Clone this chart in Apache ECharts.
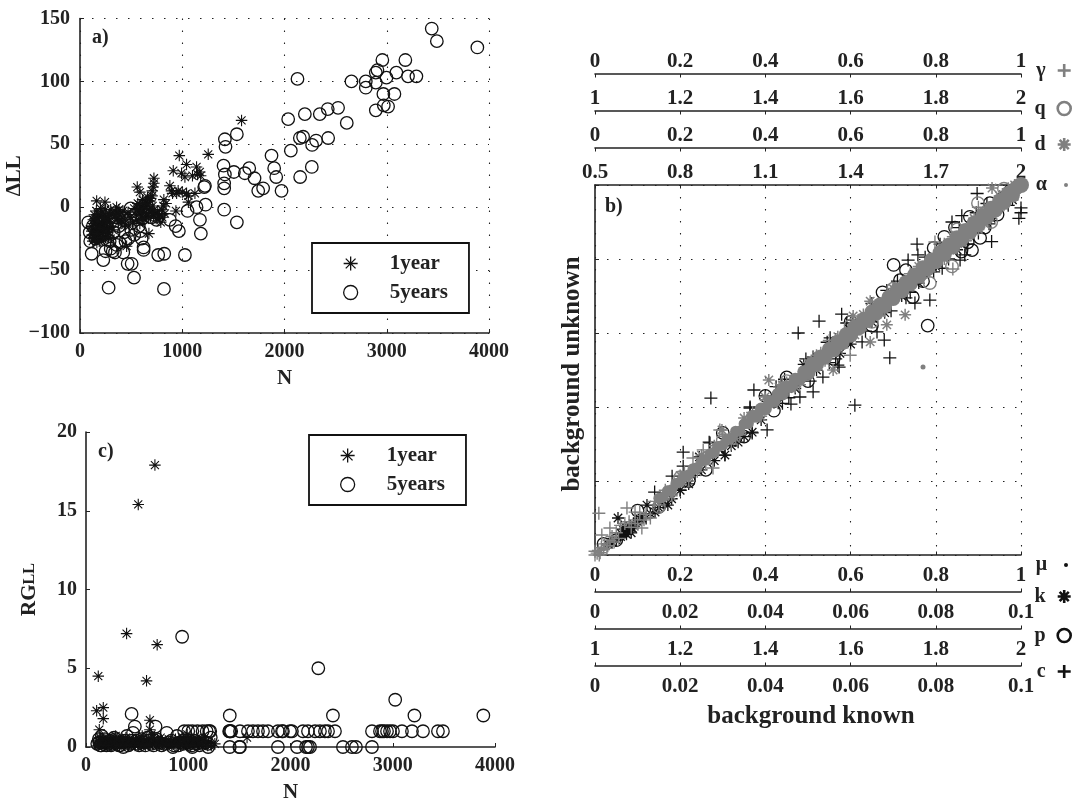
<!DOCTYPE html>
<html><head><meta charset="utf-8">
<style>html,body{margin:0;padding:0;background:#fff}#m{width:1079px;height:801px}</style>
<script src="https://cdn.jsdelivr.net/npm/echarts@6/dist/echarts.min.js"></script>
</head><body><div id="m"></div>
<script>
// Panel a: N vs delta LL
const a1year = [[1580,69],[1254,42],[971,41],[1042,34],[912,29],[1140,32],[993,27],[1026,24],[1172,28],[1100,25],[1180,25],[1150,26],[723,23],[723,19],[716,16],[706,13],[560,16],[586,12],[879,17],[895,13],[945,11],[1042,11],[1124,11],[1060,9],[1000,12],[960,13],[905,11],[820,6],[1060,4],[938,-3],[674,-21],[456,-31],[163,5],[244,4],[358,0],[380,-2],[420,-3],[300,-2],
[110,-15],[120,-22],[125,-27],[130,-10],[135,-18],[140,-6],[145,-25],[150,-13],[155,-20],[160,-3],[165,-28],[170,-9],[175,-16],[180,-23],[185,-6],[190,-12],[195,-19],[200,-1],[205,-26],[210,-8],[215,-14],[220,-21],[225,-4],[230,-11],[240,-17],[250,-24],[255,-7],[262,-13],[270,-20],[280,-9],[290,-16],[300,-25],[312,-5],[320,-18],[335,-8],
[115,-19],[128,-13],[138,-24],[148,-9],[158,-16],[168,-21],[178,-11],[188,-27],[198,-15],[208,-5],[218,-24],[228,-17],[238,-9],[248,-2],[258,-19],[268,-12],[278,-24],[288,-6],[298,-13],
[345,-3],[365,-9],[390,-6],[405,-11],[430,-7],[445,-14],[470,-4],[495,-8],[515,-12],[530,-1],[545,-6],[555,-10],[565,3],[575,-3],[585,-13],[595,1],[605,-7],[612,6],[622,-2],[634,-10],[640,4],[650,-5],[660,8],[672,-8],[685,5],[695,-4],[705,9],[718,-7],[735,-5],[745,-9],[760,-3],[778,-6],[790,-12],[800,-2],[815,1],[830,-5],[842,3],
[560,-2],[580,2],[600,-4],[615,-9],[628,3],[645,-1],[662,2],[678,-4],[692,7],[710,1],[725,-2],[360,-5],[400,-13],[440,-10],[480,-15],[760,-9],[805,-8],[350,-7],[375,-12]];
const a5years = [[3440,142],[3490,132],[3886,127],[2127,102],[2957,117],[3182,117],[2909,109],[2893,107],[2997,103],[3094,107],[3208,104],[3290,104],[2655,100],[2795,100],[2795,95],[2893,99],[2967,90],[3075,90],[2893,77],[2971,81],[3013,80],[2524,79],[2423,78],[2345,74],[2199,74],[2036,70],[2609,67],[2427,55],[2309,53],[2270,49.5],[2150,55],[2182,56],[2062,45],[2267,32],[2153,24],[1873,41],[1899,31],[1919,24],[1971,13],[1791,15],[1743,13],[1707,23],[1655,31],[1612,27],[1505,28],[1534,58],[1417,54],[1423,48],[1404,33],[1417,26],[1410,19],[1410,15],[1410,-2],[1534,-12],[1215,16],[1222,17],[1228,2],[1140,0],[1173,-10],[1182,-21],[1052,-3],[1026,-38],[967,-19],[935,-15],[879,-10],[824,-37],[765,-38],[821,-65],[280,-64],[528,-56],[505,-45],[466,-45],[622,-34],[622,-32],[603,-25],[228,-42],[114,-37],[250,-35],[342,-36],[423,-36],[358,-30],[472,-25],[81,-12],[495,-1],[748,-10],[590,-19],[320,-35],[530,-22],
[95,-20],[430,-20],[100,-27],[125,-15],[150,-25],[170,-18],[200,-11],[235,-22],[265,-16],[290,-27],[330,-20],[380,-15],[410,-8],[445,-27],[500,-18],[540,-6],[575,-15],[610,-9],[640,-4],[700,-8],[385,-28],[300,-33]];

// Panel c: N vs RG_LL
const c1year = [[674,17.9],[511,15.4],[397,7.2],[696,6.5],[120,4.5],[592,4.2],[104,2.3],[169,2.5],[169,1.8],[130,1.1],[625,1.7],[1575,0.6],[1260,0.2],[110,0.4],[125,0.2],[140,0.6],[155,0.1],[170,0.3],[185,0.5],[200,0.2],[215,0.4],[230,0.1],[245,0.6],[260,0.3],[275,0.2],[290,0.7],[305,0.1],[320,0.4],[335,0.3],[350,0.5],[370,0.2],[390,0.6],[410,0.1],[430,0.4],[450,0.3],[470,0.2],[490,0.5],[510,0.1],[530,0.4],[550,0.7],[570,0.2],[590,0.3],[610,0.5],[625,1.1],[640,0.8],[650,0.2],[670,0.4],[690,0.1],[710,0.3],[730,0.6],[750,0.2],[775,0.4],[800,0.1],[825,0.3],[850,0.2],[875,0.5],[900,0.3],[925,0.1],[950,0.6],[975,0.3],[990,0.8],[1010,0.2],[1030,0.5],[1050,0.4],[1075,0.2],[1100,0.3],[1125,0.1],[1150,0.4],[1175,0.2],[1200,0.3],[1225,0.1],
[118,0.1],[132,0.3],[148,0.2],[163,0.4],[178,0.1],[193,0.3],[208,0.1],[222,0.2],[238,0.3],[252,0.1],[268,0.4],[283,0.3],[298,0.2],[313,0.2],[328,0.1],[343,0.2],[360,0.4],[380,0.1],[400,0.3],[420,0.2],[440,0.1],[460,0.4],[480,0.1],[500,0.3],[520,0.2],[540,0.1],[560,0.4],[580,0.1],[600,0.2],[620,0.1],[660,0.6],[680,0.2],[700,0.4],[720,0.1],[740,0.3],[760,0.1],[790,0.3],[815,0.2],[840,0.1],[865,0.3],[890,0.1],[915,0.4],[940,0.2],[960,0.4],[985,0.1],[1000,0.4],[1020,0.1],[1040,0.3],[1065,0.1],[1090,0.4],[1110,0.2],[1140,0.2],[1165,0.3],[1190,0.1]];
const c5years = [[940,7],[2272,5],[3024,3],[446,2.1],[1406,2],[2415,2],[3212,2],[3886,2],[478,1.3],[680,1.3],[1506,1],[1584,1],[1633,1],[1682,1],[1731,1],[1780,1],[1877,1],[1917,1],[1926,1],[1995,1],[2014,1],[2122,1],[2171,1],[2240,1],[2288,1],[2337,1],[2367,1],[2435,1],[2797,1],[2875,1],[2895,1],[2914,1],[2944,1],[2973,1],[3002,1],[3090,1],[3188,1],[3296,1],[3442,1],[3491,1],[1040,1],[1000,1],[960,1],[1090,1],[1140,1],[1180,1],[1205,1],[1215,1],[1400,1],[1410,1],[1420,1],[1406,1],[1506,0],[1877,0],[2064,0],[2152,0],[2171,0],[2191,0],[2513,0],[2601,0],[2640,0],[2797,0],[1040,0],[1195,0],[1406,0],[1500,0],[850,0],
[110,0.2],[125,0.5],[140,0.1],[155,0.7],[175,0.3],[200,0.1],[230,0.4],[260,0.2],[290,0.5],[320,0.1],[350,0.3],[365,0],[400,0.7],[430,0.2],[460,0.9],[490,0.4],[520,0.1],[560,0.3],[600,0.6],[640,0.2],[690,0.5],[740,0.1],[790,0.9],[810,0.3],[860,0.1],[890,0.7],[920,0.3],[970,0.5],[1010,0.2],[1060,0.4],[1110,0.1],[1170,0.3],[1220,0.6],
[130,0.3],[150,0.1],[185,0.5],[215,0.2],[245,0.1],[275,0.6],[305,0.3],[335,0.1],[380,0.4],[415,0.1],[445,0.4],[505,0.2],[540,0.5],[580,0.1],[620,0.4],[660,0.1],[715,0.3],[765,0.2],[835,0.4],[905,0.1],[950,0.2],[990,0.3],[1035,0.1],[1085,0.2],[1140,0.4],[1195,0.2]];

// Panel b: one [known, unknown] list per parameter, each in its own axis units
const cBlack = [[.0897,.0977],[.0861,.0917],[.0838,.09],[.0756,.084],[.0735,.0797],[.0758,.0811],[.1,.0938],[.1,.0925],[.0995,.091],[.0931,.0847],[.0857,.0797],[.0868,.0811],[.0786,.0689],[.0751,.0681],[.0692,.0533],[.0679,.0581],[.0662,.0603],[.0627,.0576],[.0579,.0651],[.0526,.0632],[.0477,.06],[.0591,.0627],[.0552,.0587],[.0512,.0535],[.05,.0519],[.057,.0513],[.061,.0405],[.0272,.0424],[.0207,.0278],[.0207,.024],[.0181,.0213],[.0268,.0305],[.0364,.0397],[.0369,.033],[.0305,.027],[.0373,.0446],[.0364,.04],[.0512,.0441],[.0481,.0427],[.046,.0408],[.0404,.0338],[.027,.0303],[.0535,.0481],[.0573,.0508],[.012,.01],[.014,.017],[.02,.0175],[.0235,.0215],[.033,.031],[.04,.043],[.044,.041],[.055,.052],[.071,.074],[.074,.071],[.081,.084],[.083,.08],[.09,.087],[.092,.095],[.097,.0945],
[.0425,.0455],[.0445,.0475],[.0455,.0425],[.0495,.053],[.0505,.047],[.0545,.0575],[.0565,.053],[.0605,.0635],[.0635,.0605],[.065,.068],[.0685,.0715],[.0695,.066],[.073,.0695],[.0775,.0805],[.0795,.0765],[.0815,.0775],[.0855,.0885],[.0875,.084],[.0895,.0925],[.0925,.0895]];
const pBlack = [[1.701,1.784],[1.781,1.62],[1.716,1.743],[1.88,1.914],[1.904,1.857],[1.927,1.951],[1.958,1.965],[1.885,1.824],[1.746,1.697],[1.82,1.86],[1.86,1.82],[1.65,1.62],[1.6,1.63],[1.5,1.47],[1.45,1.48],[1.35,1.32],[1.3,1.33],[1.22,1.2],[1.15,1.13],[1.1,1.12],[1.05,1.04],[1.02,1.03],
[1.675,1.71],[1.73,1.77],[1.77,1.74],[1.795,1.83],[1.845,1.885],[1.875,1.845],[1.915,1.885],[1.945,1.92],[1.975,1.985],[1.56,1.53],[1.42,1.39],[1.26,1.23],[1.4,1.43]];
const kBlack = [[.0054,.01],[.0075,.0065],[.007,.006],[.008,.007],[.0065,.007],[.0072,.0075],[.0085,.006],[.006,.005],[.005,.004],[.004,.0035],[.003,.003],[.01,.009],[.009,.0085],[.0122,.0135],[.0141,.0116],[.0171,.0135],[.016,.014],[.011,.01],[.02,.0175],[.025,.023],[.0305,.027],[.0336,.0305],[.035,.032],[.0369,.0332],[.043,.041],[.047,.045],[.052,.05],[.06,.057],[.065,.063],[.072,.07],[.08,.078],[.087,.085],[.093,.091],[.098,.096],
[.0068,.0062],[.0078,.0068],[.0074,.0056],[.0082,.0078],[.0062,.0058],[.0088,.0072],[.0092,.0078],[.0105,.0098],[.013,.0112],[.015,.0128],[.018,.0152],[.022,.0192],[.0245,.0265],[.028,.0255],[.032,.0295],[.039,.0365],[.049,.0515],[.0575,.0545],[.068,.0655],[.076,.0735],[.085,.0825]];
const muBlack = [[.3,.278],[.35,.33],[.42,.4],[.5,.478],[.56,.54],[.63,.61],[.68,.655],[.75,.73],[.8,.775],[.86,.84],[.9,.875],[.94,.92],[.97,.945],[.92,.945],[.78,.805]];
const gammaGray = [[0,0],[.005,.005],[.01,0],[0,.01],[.015,.02],[.02,.015],[.03,.025],[.04,.05],[.05,.06],[.06,.08],[.08,.09],[.009,.113],[.075,.127],[.094,.116],[.035,.073],[.016,.054],[.11,.073],[.094,.095],[.12,.11],[.13,.1],[.1,.085],[.23,.262],[.277,.235],[.293,.338],[.254,.284],[.32,.3],[.4,.42],[.599,.54],[.798,.846],[.84,.773],[.9,.94],[.97,.99],[1,1],[.55,.58],[.7,.72],
[.008,.012],[.012,.006],[.022,.03],[.028,.018],[.035,.04],[.045,.035],[.055,.045],[.07,.085],[.085,.075],[.105,.115],[.115,.095],[.14,.145],[.15,.135],[.165,.175],[.18,.165],
[.21,.225],[.22,.2],[.26,.245],[.3,.32],[.34,.325],[.37,.385],[.45,.465],[.48,.46],[.53,.545],[.58,.56],[.64,.655],[.68,.66],[.74,.76],[.77,.75],[.82,.84],[.87,.85],[.92,.905],[.95,.965]];
const qGray = [[1.786,1.735],[1.899,1.951],[1.838,1.78],[1.96,1.99],[1.7,1.72],[1.6,1.62],[1.45,1.47],[1.3,1.31],[1.2,1.21],[1.15,1.13],[1.85,1.88],[1.93,1.9],[1.5,1.49],[1.65,1.63]];
const dGray = [[.932,.992],[.646,.686],[.606,.646],[.646,.576],[.685,.622],[.728,.649],[.985,1],[.408,.473],[.432,.454],[.399,.427],[.298,.338],[.559,.5],[.25,.27],[.18,.16],[.5,.52],[.82,.8],[.9,.88],[.95,.97],
[.2,.215],[.24,.225],[.28,.295],[.33,.315],[.35,.37],[.39,.375],[.44,.46],[.47,.455],[.52,.54],[.54,.525],[.57,.59],[.61,.595],[.63,.65],[.67,.655],[.7,.72],[.73,.715],[.76,.78],[.79,.775],[.84,.86],[.86,.845],[.89,.91],[.92,.905],[.96,.945]];
const alphaGray = [[.725,.73],[.74,.735],[.755,.76],[.77,.765],[.785,.79],[.8,.795],[.815,.82],[.83,.825],[.845,.85],[.86,.855],[.875,.88],[.89,.885],[.905,.91],[.92,.915],[.935,.94],[.95,.945],[.965,.97],[.98,.975],[.995,1.002],[1.01,1.003],[1.025,1.032],[1.04,1.033],[1.055,1.062],[1.07,1.063],[1.085,1.092],[1.1,1.093],[1.115,1.122],[1.13,1.123],[1.145,1.152],[1.16,1.153],[1.175,1.182],[1.19,1.183],[1.205,1.213],[1.22,1.212],[1.235,1.243],[1.25,1.242],[1.265,1.273],[1.28,1.272],[1.295,1.303],[1.31,1.302],[1.325,1.334],[1.34,1.331],[1.355,1.364],[1.37,1.361],[1.385,1.394],[1.4,1.391],[1.415,1.424],[1.43,1.421],[1.445,1.454],[1.46,1.451],[1.475,1.485],[1.49,1.48],[1.505,1.515],[1.52,1.51],[1.535,1.545],[1.55,1.54],[1.565,1.575],[1.58,1.57],[1.595,1.605],[1.61,1.6],[1.625,1.635],[1.64,1.63],[1.655,1.665],[1.67,1.66],[1.685,1.696],[1.7,1.689],[1.715,1.726],[1.73,1.719],[1.745,1.756],[1.76,1.749],[1.775,1.786],[1.79,1.779],[1.805,1.816],[1.82,1.809],[1.835,1.846],[1.85,1.839],[1.865,1.876],[1.88,1.869],[1.895,1.906],[1.91,1.899],[1.925,1.936],[1.94,1.929],[1.955,1.966],[1.97,1.959],[1.985,1.99],[2,2],[1.655,1.262]];

// Tick label lists for axes that need them
const alphaTicks = [.5,.8,1.1,1.4,1.7,2];

const serif = '"Liberation Serif","Times New Roman",serif';
const ink = '#222', midGray = '#808080';
const STAR = 'path://M5 0L5 10M0 5L10 5M1.5 1.5L8.5 8.5M1.5 8.5L8.5 1.5';
const PLUS = 'path://M5 0L5 10M0 5L10 5';
const dots = {show:true, lineStyle:{color:'#222', width:1.1, type:[1.5,10.5]}};
const labelFont = {fontFamily:serif, fontWeight:'bold', fontSize:20, color:ink};
const bFont = {...labelFont, fontSize:21};
const lineS = {show:true, onZero:false, lineStyle:{color:ink, width:1.6}};
const plain = v => (v < 0 ? '\u2212' + (-v) : String(v));

function mainX(gridIndex, show) {
  return {type:'value', gridIndex, min:0, max:4000, interval:1000, name:'N', nameLocation:'middle', nameGap:35,
    nameTextStyle:{...labelFont, fontSize:21}, axisLine:lineS, axisTick:{show:true, inside:true, length:4, lineStyle:{color:ink}},
    axisLabel:{...labelFont, margin:9, showMinLabel:true, showMaxLabel:true, formatter:plain}, splitLine:show ? dots : {show:false}};
}
function topX(i, pos, offset, min, max, interval, extra) {
  return Object.assign({type:'value', gridIndex:2, position:pos, offset, min, max, interval,
    axisLine:lineS, axisTick:{show:true, inside:true, length:3.5, lineStyle:{color:ink}},
    axisLabel:{...bFont, margin:pos === 'top' ? 2 : 10, showMinLabel:true, showMaxLabel:true, hideOverlap:false},
    splitLine:{show:false}}, extra || {});
}
const xAxes = [
  mainX(0,true), mainX(1,false),
  topX(0,'top',0,.5,2,.1,{axisTick:{show:true, inside:true, length:3.5, lineStyle:{color:ink}, customValues:alphaTicks}, axisLabel:{...bFont, margin:2, customValues:alphaTicks}}),
  topX(0,'top',37,0,1,.2),
  topX(0,'top',74,1,2,.2),
  topX(0,'top',111,0,1,.2),
  topX(0,'bottom',0,0,1,.2,{splitLine:dots}),
  topX(0,'bottom',37,0,.1,.02),
  topX(0,'bottom',74,1,2,.2),
  topX(0,'bottom',111,0,.1,.02,{name:'background known', nameLocation:'middle', nameGap:38, nameTextStyle:{...labelFont, fontSize:25, padding:[0,0,0,6]}})
];
const hiddenY = (min,max) => ({type:'value', gridIndex:2, min, max, show:false});
const yAxes = [
  {type:'value', gridIndex:0, min:-100, max:150, interval:50, name:'\u0394LL', nameLocation:'middle', nameGap:45, nameTextStyle:{...labelFont, fontSize:21},
    axisLine:lineS, axisTick:{show:true, inside:true, length:4, lineStyle:{color:ink}}, axisLabel:{...labelFont, margin:10, formatter:plain, showMinLabel:true, showMaxLabel:true}, splitLine:dots},
  {type:'value', gridIndex:1, min:0, max:20, interval:5, name:'{a|RG}{b|LL}', nameLocation:'middle', nameGap:46,
    nameTextStyle:{rich:{a:{...labelFont, fontSize:21}, b:{...labelFont, fontSize:16}}},
    axisLine:lineS, axisTick:{show:true, inside:true, length:4, lineStyle:{color:ink}}, axisLabel:{...labelFont, margin:9, showMinLabel:true, showMaxLabel:true}, splitLine:{show:false}},
  {type:'value', gridIndex:2, min:0, max:1, interval:.2, name:'background unknown', nameLocation:'middle', nameGap:10, nameTextStyle:{...labelFont, fontSize:25, padding:[0,8,0,0]},
    axisLine:lineS, axisTick:{show:true, inside:true, length:4, lineStyle:{color:ink}}, axisLabel:{show:false}, splitLine:dots},
  hiddenY(.5,2), hiddenY(1,2), hiddenY(0,.1), hiddenY(0,1)
];
// y index per scale: 0-1 → 2, .5-2 → 3, 1-2 → 4, 0-.1 → 5
function sc(name, data, symbol, size, color, width, xi, yi) {
  return {type:'scatter', name, data, symbol, symbolSize:size, xAxisIndex:xi, yAxisIndex:yi, clip:false, silent:true,
    itemStyle:{color:'transparent', borderColor:color, borderWidth:width, opacity:1}, animation:false};
}
function dot(name, data, size, color, xi, yi) {
  return {type:'scatter', name, data, symbol:'circle', symbolSize:size, xAxisIndex:xi, yAxisIndex:yi, clip:false, silent:true,
    itemStyle:{color, opacity:1}, animation:false};
}
const series = [
  sc('5years', a5years, 'circle', 12.5, '#111', 1.3, 0, 0),
  sc('1year', a1year, STAR, 11.5, '#111', 1.1, 0, 0),
  sc('5years', c5years, 'circle', 12.5, '#111', 1.3, 1, 1),
  sc('1year', c1year, STAR, 11.5, '#111', 1.1, 1, 1),
  sc('c', cBlack, PLUS, 13, '#111', 1.3, 9, 5),
  sc('p', pBlack, 'circle', 12.5, '#111', 1.3, 8, 4),
  sc('k', kBlack, STAR, 12, '#111', 1.3, 7, 5),
  dot('\u03bc', muBlack, 3, '#111', 6, 2),
  sc('\u03b3', gammaGray, PLUS, 13, midGray, 1.4, 5, 2),
  sc('q', qGray, 'circle', 12.5, midGray, 1.4, 4, 4),
  sc('d', dGray, STAR, 12, midGray, 1.5, 3, 2),
  dot('\u03b1', alphaGray, v => v[0] >= 2 ? 16 : Math.abs(v[0]-v[1]) > .2 ? 5 : v[0] < 1.05 ? 11 : v[0] < 1.25 ? 13 : 15, midGray, 2, 3)
];
function boxLegend(left, top) {
  return {left, top, orient:'vertical', selectedMode:false, padding:[10,21,10,31], itemGap:8, itemWidth:14, itemHeight:14,
    borderColor:'#111', borderWidth:1.8, backgroundColor:'#fff', z:10,
    itemStyle:{borderWidth:1.3}, textStyle:{...labelFont, fontSize:21, padding:[0,0,0,27]},
    data:[{name:'1year', icon:STAR},{name:'5years', icon:'circle'}]};
}
function sideLegend(name, icon, rowY, size, bw) {
  const small = size < 6;
  return {right: small ? 11 : 7, top:rowY - size/2, align:'right', selectedMode:false, padding:0, itemWidth:size, itemHeight:size,
    itemStyle:{borderWidth:bw}, textStyle:{...labelFont, padding:[0, small ? 12 : 7, 0, 0]},
    data:[{name, icon}]};
}
const note = (t,x,y) => ({type:'text', left:x, top:y, silent:true, style:{text:t, font:'bold 20px '+serif, fill:ink}});
const chart = echarts.init(document.getElementById('m'), null, {renderer:'canvas', width:1079, height:801});
chart.setOption({
  animation:false, backgroundColor:'#fff',
  grid:[{left:80, top:18.5, width:409, height:314.5, outerBoundsMode:'none'},{left:86, top:432, width:409, height:315, outerBoundsMode:'none'},{left:595, top:185, width:426, height:370, outerBoundsMode:'none'}],
  xAxis:xAxes, yAxis:yAxes, series,
  legend:[boxLegend(312,243), boxLegend(309,435),
    sideLegend('\u03b3',PLUS,67,13,2.6), sideLegend('q','circle',105,13,2.6), sideLegend('d',STAR,141,13,2.6), sideLegend('\u03b1','circle',177,4,0),
    sideLegend('\u03bc','circle',557,4,0), sideLegend('k',STAR,593,13,2.6), sideLegend('p','circle',632,13,2.6), sideLegend('c',PLUS,668,13,2.6)],
  graphic:[note('a)',92,28), note('b)',605,197), note('c)',98,442)]
});
</script></body></html>
